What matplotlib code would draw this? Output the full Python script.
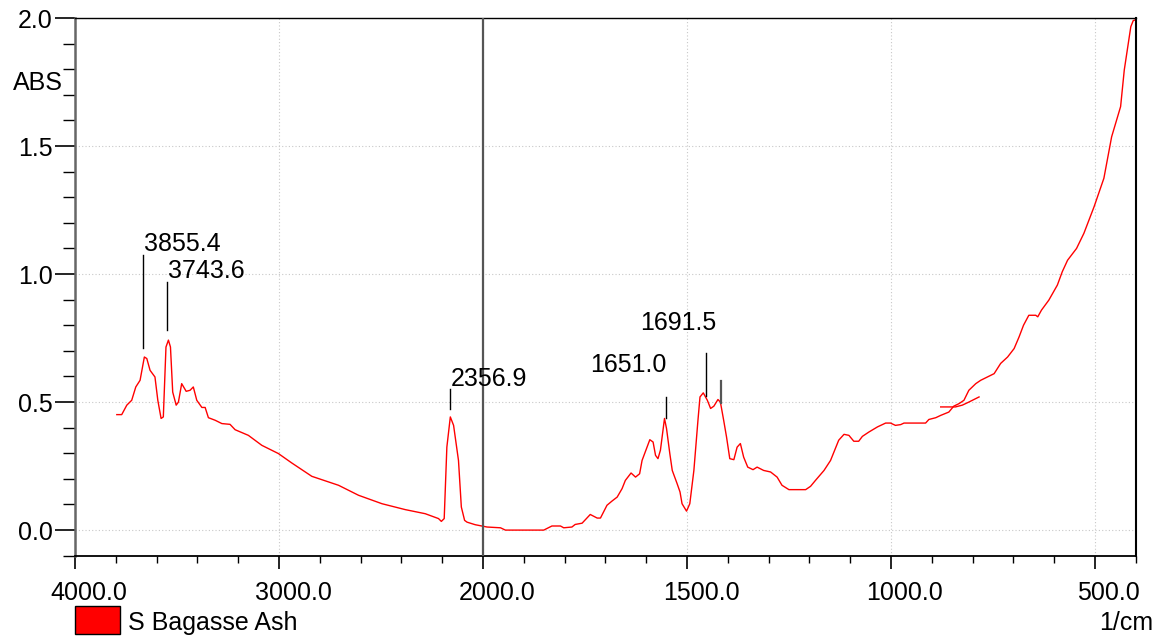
import numpy as np
import matplotlib
matplotlib.use('Agg')
import matplotlib.pyplot as plt
import matplotlib.transforms as mtransforms
from matplotlib.patches import Rectangle
from matplotlib.ticker import FixedLocator, FormatStrFormatter

plt.rcParams['font.family'] = ['Liberation Sans', 'DejaVu Sans']

# ---- spectrum (wavenumber in 1/cm, absorbance) ----
wavenumber = [3795, 3771, 3746, 3722, 3702, 3681, 3660, 3648, 3632, 3608,
              3594, 3578, 3567, 3554, 3542, 3532, 3521, 3504, 3493, 3477,
              3455, 3436, 3420, 3403, 3378, 3362, 3346, 3313, 3280, 3240,
              3215, 3150, 3084, 3003, 2937, 2839, 2708, 2610, 2495, 2381,
              2283, 2218, 2204, 2190, 2177, 2160, 2144, 2120, 2106, 2090,
              2078, 2038, 1990, 1957, 1945, 1851, 1831, 1810, 1802, 1782,
              1774, 1757, 1737, 1720, 1712, 1696, 1684, 1671, 1659, 1651,
              1637, 1626, 1616, 1610, 1591, 1583, 1577, 1571, 1565, 1555,
              1550, 1542, 1536, 1524, 1517, 1512, 1501, 1493, 1483, 1473,
              1468, 1460, 1450, 1442, 1434, 1424, 1418, 1410, 1403, 1395,
              1385, 1377, 1369, 1361, 1351, 1338, 1328, 1312, 1295, 1279,
              1267, 1250, 1209, 1197, 1185, 1164, 1148, 1138, 1128, 1115,
              1103, 1091, 1079, 1070, 1054, 1033, 1013, 1001, 989, 976,
              968, 915, 907, 890, 878, 858, 846, 833, 821, 809,
              792, 780, 747, 731, 714, 698, 686, 675, 662, 645,
              640, 631, 613, 592, 580, 567, 545, 527, 502, 478,
              459, 437, 428, 412, 406, 400]
absorbance = [0.451, 0.451, 0.488, 0.507, 0.559, 0.585, 0.676, 0.670, 0.624, 0.598,
              0.507, 0.436, 0.442, 0.715, 0.742, 0.715, 0.539, 0.488, 0.500, 0.572,
              0.542, 0.546, 0.559, 0.507, 0.479, 0.479, 0.439, 0.429, 0.416, 0.413,
              0.392, 0.370, 0.331, 0.299, 0.262, 0.210, 0.175, 0.136, 0.103, 0.080,
              0.064, 0.045, 0.034, 0.045, 0.324, 0.442, 0.409, 0.272, 0.090, 0.038,
              0.031, 0.021, 0.012, 0.009, 0.000, 0.000, 0.016, 0.016, 0.009, 0.012,
              0.022, 0.027, 0.061, 0.047, 0.047, 0.097, 0.113, 0.129, 0.162, 0.194,
              0.223, 0.207, 0.220, 0.272, 0.353, 0.344, 0.292, 0.279, 0.312, 0.436,
              0.396, 0.299, 0.233, 0.181, 0.149, 0.103, 0.074, 0.103, 0.233, 0.429,
              0.520, 0.536, 0.507, 0.475, 0.484, 0.510, 0.500, 0.429, 0.364, 0.279,
              0.275, 0.324, 0.338, 0.285, 0.246, 0.236, 0.246, 0.233, 0.227, 0.207,
              0.175, 0.158, 0.158, 0.171, 0.194, 0.233, 0.272, 0.312, 0.351, 0.374,
              0.370, 0.347, 0.347, 0.366, 0.383, 0.403, 0.418, 0.418, 0.409, 0.412,
              0.418, 0.418, 0.432, 0.439, 0.448, 0.461, 0.484, 0.494, 0.507, 0.546,
              0.572, 0.585, 0.611, 0.651, 0.676, 0.709, 0.754, 0.800, 0.839, 0.839,
              0.833, 0.859, 0.898, 0.957, 1.009, 1.054, 1.100, 1.159, 1.263, 1.374,
              1.536, 1.654, 1.797, 1.966, 1.990, 1.993]

# short overlapping piece near 850 1/cm
extra_wavenumber = [878, 842, 825, 809, 784]
extra_absorbance = [0.481, 0.481, 0.488, 0.500, 0.520]

# peak marks: label, x of mark, mark bottom/top, label x, label baseline
peak_labels = ['3855.4', '3743.6', '2356.9', '1651.0', '1691.5', '']
peak_x = [3665, 3550, 2164, 1551, 1453, 1416]
peak_y0 = [0.710, 0.781, 0.471, 0.436, 0.523, 0.496]
peak_y1 = [1.074, 0.970, 0.553, 0.518, 0.690, 0.581]
label_x = [3660, 3542, 2157, 1550, 1522, None]
label_y = [1.091, 0.984, 0.562, 0.618, 0.783, None]
label_ha = ['left', 'left', 'left', 'right', 'center', 'left']

x_major = [4000, 3000, 2000, 1500, 1000, 500]
x_minor = [3800, 3600, 3400, 3200, 2800, 2600, 2400, 2200,
           1900, 1800, 1700, 1600, 1400, 1300, 1200, 1100,
           900, 800, 700, 600, 400]
y_major = [0.0, 0.5, 1.0, 1.5, 2.0]
y_minor = [-0.1, 0.1, 0.2, 0.3, 0.4, 0.6, 0.7, 0.8, 0.9,
           1.1, 1.2, 1.3, 1.4, 1.6, 1.7, 1.8, 1.9]


# wavenumber axis is stretched x2 below 2000 1/cm
def fwd(x):
    x = np.asarray(x, dtype=float)
    return np.where(x >= 2000, x, 2 * x - 2000)


def inv(u):
    u = np.asarray(u, dtype=float)
    return np.where(u >= 2000, u, (u + 2000) / 2)


fig = plt.figure(figsize=(11.57, 6.38), dpi=100)
ax = fig.add_axes([75 / 1157, 1 - 555.7 / 638, 1060.7 / 1157, 537.7 / 638])
ax.set_xscale('function', functions=(fwd, inv))

ax.plot(wavenumber, absorbance, color='red', lw=1.0)
ax.plot(extra_wavenumber, extra_absorbance, color='red', lw=1.0)

ax.set_xlim(4000, 400)
ax.set_ylim(-0.1, 2.0)

ax.xaxis.set_major_locator(FixedLocator(x_major))
ax.xaxis.set_minor_locator(FixedLocator(x_minor))
ax.xaxis.set_major_formatter(FormatStrFormatter('%.1f'))
ax.xaxis.set_minor_formatter(plt.NullFormatter())
ax.yaxis.set_major_locator(FixedLocator(y_major))
ax.yaxis.set_minor_locator(FixedLocator(y_minor))
ax.yaxis.set_major_formatter(FormatStrFormatter('%.1f'))

ax.tick_params(axis='x', which='major', direction='out', length=9.4, width=1.2,
               labelsize=18, pad=8.5)
ax.tick_params(axis='x', which='minor', direction='out', length=5, width=1.0)
ax.tick_params(axis='y', which='major', direction='out', length=14.4, width=1.2,
               labelsize=18, pad=1.5)
ax.tick_params(axis='y', which='minor', direction='out', length=8.6, width=1.0)

# shift x tick labels right like the instrument print
shift = mtransforms.ScaledTranslation(14 / 100, 0, fig.dpi_scale_trans)
for lab in ax.get_xticklabels():
    lab.set_transform(lab.get_transform() + shift)

ax.grid(True, which='major', linestyle=(0, (1, 2)), color='#c8c8c8', lw=0.8)
ax.axvline(2000, color='#555555', lw=1.6, zorder=3)

ax.spines['left'].set_color('#666666')
ax.spines['left'].set_linewidth(1.8)
ax.spines['top'].set_linewidth(1.0)
ax.spines['right'].set_linewidth(1.5)
ax.spines['bottom'].set_linewidth(1.3)

for i, lab in enumerate(peak_labels):
    ax.plot([peak_x[i], peak_x[i]], [peak_y0[i], peak_y1[i]],
            color='black' if lab else '#555555', lw=1.0 if lab else 1.6)
    if lab:
        ax.text(label_x[i], label_y[i], lab, fontsize=18, ha=label_ha[i],
                va='baseline')

fig.text(62.7 / 1157, 1 - 83 / 638, 'ABS', fontsize=18, ha='right', va='center')
fig.text(1153 / 1157, 1 - 630 / 638, '1/cm', fontsize=18, ha='right',
         va='baseline')

fig.patches.append(Rectangle((75 / 1157, 1 - 634 / 638), 45 / 1157, 28 / 638,
                             transform=fig.transFigure, facecolor='red',
                             edgecolor='black', lw=1.0))
fig.text(128 / 1157, 1 - 630 / 638, 'S Bagasse Ash', fontsize=18,
         ha='left', va='baseline')

fig.savefig('out.png', dpi=100)
